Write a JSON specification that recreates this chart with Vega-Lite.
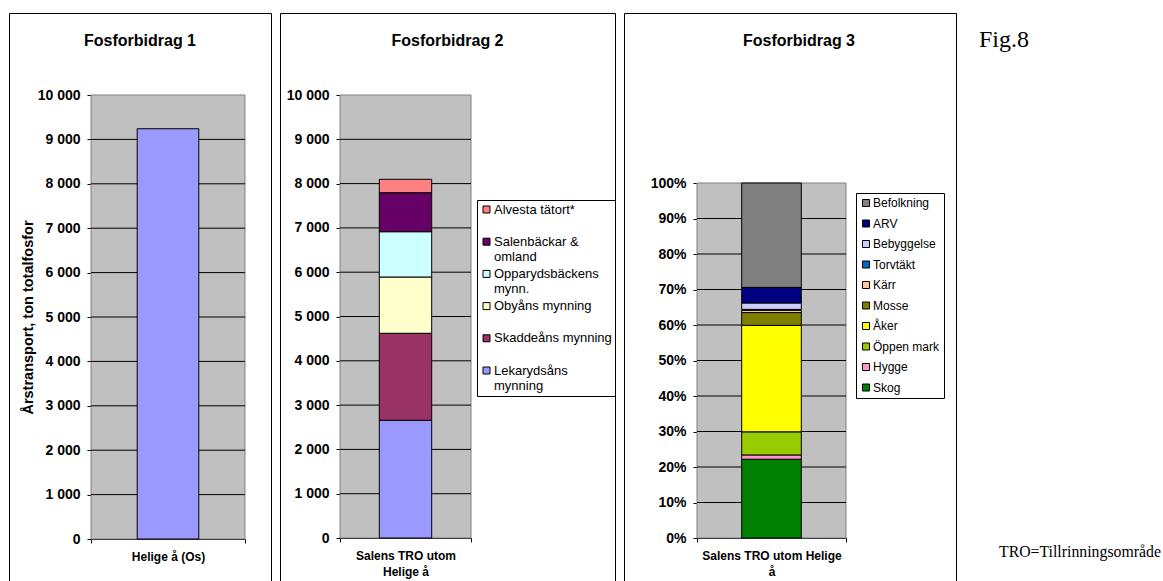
{
  "$schema": "https://vega.github.io/schema/vega-lite/v6.json",
  "padding": {"left": 8, "top": 12, "right": 0, "bottom": 0},
  "background": "white",
  "spacing": 9,
  "bounds": "flush",
  "resolve": {"scale": {"color": "independent", "size": "independent"}, "legend": {"color": "independent"}},
  "hconcat": [
    {
      "width": 262,
      "height": 575,
      "title": {"text": "Fosforbidrag 1"},
      "layer": [
        {
          "data": {"values": [{"cat": "Helige å (Os)", "lo": 0, "hi": 10000}]},
          "mark": {"type": "bar", "fill": "#c0c0c0", "stroke": "#808080", "strokeWidth": 1},
          "encoding": {
            "x": {"field": "cat", "type": "nominal", "scale": {"type": "band", "domain": ["Helige å (Os)"], "range": [82, 236], "paddingInner": 0, "paddingOuter": 0},
                  "axis": {"offset": -49, "title": null, "labelExpr": "datum.label"}},
            "y": {"field": "lo", "type": "quantitative", "scale": {"domain": [0, 10000], "range": [526, 82], "nice": false, "zero": false},
                  "axis": {"offset": -82, "values": [0, 1000, 2000, 3000, 4000, 5000, 6000, 7000, 8000, 9000, 10000],
                           "labelExpr": "datum.value == 0 ? '0' : floor(datum.value / 1000) + ' 000'",
                           "title": "Årstransport, ton totalfosfor", "titleFontSize": 14.5, "titlePadding": 2}},
            "y2": {"field": "hi"}
          }
        },
        {
          "data": {"values": [
            {"cat": "Helige å (Os)", "g": 1000}, {"cat": "Helige å (Os)", "g": 2000}, {"cat": "Helige å (Os)", "g": 3000},
            {"cat": "Helige å (Os)", "g": 4000}, {"cat": "Helige å (Os)", "g": 5000}, {"cat": "Helige å (Os)", "g": 6000},
            {"cat": "Helige å (Os)", "g": 7000}, {"cat": "Helige å (Os)", "g": 8000}, {"cat": "Helige å (Os)", "g": 9000}
          ]},
          "mark": {"type": "rule", "color": "black", "strokeWidth": 1},
          "encoding": {
            "x": {"field": "cat", "type": "nominal", "bandPosition": 0, "scale": {"type": "band", "domain": ["Helige å (Os)"], "range": [82, 236], "paddingInner": 0, "paddingOuter": 0}},
            "x2": {"field": "cat", "bandPosition": 1},
            "y": {"field": "g", "type": "quantitative", "scale": {"domain": [0, 10000], "range": [526, 82], "nice": false, "zero": false}}
          }
        },
        {
          "data": {"values": [{"cat": "Helige å (Os)", "v": 9240}]},
          "mark": {"type": "bar", "width": {"band": 0.4}, "fill": "#9999ff", "stroke": "black", "strokeWidth": 1},
          "encoding": {
            "x": {"field": "cat", "type": "nominal", "scale": {"type": "band", "domain": ["Helige å (Os)"], "range": [82, 236], "paddingInner": 0, "paddingOuter": 0}},
            "y": {"field": "v", "type": "quantitative", "scale": {"domain": [0, 10000], "range": [526, 82], "nice": false, "zero": false}}
          }
        }
      ]
    },
    {
      "width": 335,
      "height": 575,
      "title": {"text": "Fosforbidrag 2"},
      "layer": [
        {
          "data": {"values": [{"cat": "Salens TRO utom Helige å", "lo": 0, "hi": 10000}]},
          "mark": {"type": "bar", "fill": "#c0c0c0", "stroke": "#808080", "strokeWidth": 1},
          "encoding": {
            "x": {"field": "cat", "type": "nominal", "scale": {"type": "band", "domain": ["Salens TRO utom Helige å"], "range": [60, 191], "paddingInner": 0, "paddingOuter": 0},
                  "axis": {"offset": -50, "title": null, "labelExpr": "[slice(datum.label, 0, 15), slice(datum.label, 16)]"}},
            "y": {"field": "lo", "type": "quantitative", "scale": {"domain": [0, 10000], "range": [525, 82], "nice": false, "zero": false},
                  "axis": {"offset": -60, "values": [0, 1000, 2000, 3000, 4000, 5000, 6000, 7000, 8000, 9000, 10000],
                           "labelExpr": "datum.value == 0 ? '0' : floor(datum.value / 1000) + ' 000'", "title": null}},
            "y2": {"field": "hi"}
          }
        },
        {
          "data": {"values": [
            {"cat": "Salens TRO utom Helige å", "g": 1000}, {"cat": "Salens TRO utom Helige å", "g": 2000}, {"cat": "Salens TRO utom Helige å", "g": 3000},
            {"cat": "Salens TRO utom Helige å", "g": 4000}, {"cat": "Salens TRO utom Helige å", "g": 5000}, {"cat": "Salens TRO utom Helige å", "g": 6000},
            {"cat": "Salens TRO utom Helige å", "g": 7000}, {"cat": "Salens TRO utom Helige å", "g": 8000}, {"cat": "Salens TRO utom Helige å", "g": 9000}
          ]},
          "mark": {"type": "rule", "color": "black", "strokeWidth": 1},
          "encoding": {
            "x": {"field": "cat", "type": "nominal", "bandPosition": 0, "scale": {"type": "band", "domain": ["Salens TRO utom Helige å"], "range": [60, 191], "paddingInner": 0, "paddingOuter": 0}},
            "x2": {"field": "cat", "bandPosition": 1},
            "y": {"field": "g", "type": "quantitative", "scale": {"domain": [0, 10000], "range": [525, 82], "nice": false, "zero": false}}
          }
        },
        {
          "data": {"values": [
            {"cat": "Salens TRO utom Helige å", "seg": "Lekarydsåns mynning", "v": 2657, "o": 1},
            {"cat": "Salens TRO utom Helige å", "seg": "Skaddeåns mynning", "v": 1964, "o": 2},
            {"cat": "Salens TRO utom Helige å", "seg": "Obyåns mynning", "v": 1271, "o": 3},
            {"cat": "Salens TRO utom Helige å", "seg": "Opparydsbäckens mynn.", "v": 1022, "o": 4},
            {"cat": "Salens TRO utom Helige å", "seg": "Salenbäckar & omland", "v": 881, "o": 5},
            {"cat": "Salens TRO utom Helige å", "seg": "Alvesta tätort*", "v": 302, "o": 6}
          ]},
          "mark": {"type": "bar", "width": {"band": 0.4}, "stroke": "black", "strokeWidth": 1},
          "encoding": {
            "x": {"field": "cat", "type": "nominal", "scale": {"type": "band", "domain": ["Salens TRO utom Helige å"], "range": [60, 191], "paddingInner": 0, "paddingOuter": 0}},
            "y": {"field": "v", "type": "quantitative", "stack": "zero", "scale": {"domain": [0, 10000], "range": [525, 82], "nice": false, "zero": false}},
            "order": {"field": "o", "type": "quantitative"},
            "color": {"field": "seg", "type": "nominal",
              "scale": {"domain": ["Alvesta tätort*", "Salenbäckar & omland", "Opparydsbäckens mynn.", "Obyåns mynning", "Skaddeåns mynning", "Lekarydsåns mynning"],
                        "range": ["#ff8080", "#660066", "#ccffff", "#ffffcc", "#993366", "#9999ff"]},
              "legend": {"orient": "none", "legendX": 197, "legendY": 187, "title": null, "labelFontSize": 13, "rowPadding": 3.2, "padding": 3, "labelOffset": 1,
                         "labelExpr": "length(datum.label) > 17 ? [substring(datum.label, 0, lastindexof(datum.label, ' ')), substring(datum.label, lastindexof(datum.label, ' ') + 1)] : [datum.label, '']"}}
          }
        }
      ]
    },
    {
      "width": 332,
      "height": 575,
      "title": {"text": "Fosforbidrag 3", "dx": 9},
      "layer": [
        {
          "data": {"values": [{"cat": "Salens TRO utom Helige å", "lo": 0, "hi": 100}]},
          "mark": {"type": "bar", "fill": "#c0c0c0", "stroke": "#808080", "strokeWidth": 1},
          "encoding": {
            "x": {"field": "cat", "type": "nominal", "scale": {"type": "band", "domain": ["Salens TRO utom Helige å"], "range": [73, 222], "paddingInner": 0, "paddingOuter": 0},
                  "axis": {"offset": -50, "title": null, "labelExpr": "[slice(datum.label, 0, 22), slice(datum.label, 23)]"}},
            "y": {"field": "lo", "type": "quantitative", "scale": {"domain": [0, 100], "range": [525, 170], "nice": false, "zero": false},
                  "axis": {"offset": -73, "values": [0, 10, 20, 30, 40, 50, 60, 70, 80, 90, 100],
                           "labelExpr": "datum.value + '%'", "title": null}},
            "y2": {"field": "hi"}
          }
        },
        {
          "data": {"values": [
            {"cat": "Salens TRO utom Helige å", "g": 10}, {"cat": "Salens TRO utom Helige å", "g": 20}, {"cat": "Salens TRO utom Helige å", "g": 30},
            {"cat": "Salens TRO utom Helige å", "g": 40}, {"cat": "Salens TRO utom Helige å", "g": 50}, {"cat": "Salens TRO utom Helige å", "g": 60},
            {"cat": "Salens TRO utom Helige å", "g": 70}, {"cat": "Salens TRO utom Helige å", "g": 80}, {"cat": "Salens TRO utom Helige å", "g": 90}
          ]},
          "mark": {"type": "rule", "color": "black", "strokeWidth": 1},
          "encoding": {
            "x": {"field": "cat", "type": "nominal", "bandPosition": 0, "scale": {"type": "band", "domain": ["Salens TRO utom Helige å"], "range": [73, 222], "paddingInner": 0, "paddingOuter": 0}},
            "x2": {"field": "cat", "bandPosition": 1},
            "y": {"field": "g", "type": "quantitative", "scale": {"domain": [0, 100], "range": [525, 170], "nice": false, "zero": false}}
          }
        },
        {
          "data": {"values": [
            {"cat": "Salens TRO utom Helige å", "seg": "Skog", "v": 22.2, "o": 1},
            {"cat": "Salens TRO utom Helige å", "seg": "Hygge", "v": 1.2, "o": 2},
            {"cat": "Salens TRO utom Helige å", "seg": "Öppen mark", "v": 6.5, "o": 3},
            {"cat": "Salens TRO utom Helige å", "seg": "Åker", "v": 30.0, "o": 4},
            {"cat": "Salens TRO utom Helige å", "seg": "Mosse", "v": 3.6, "o": 5},
            {"cat": "Salens TRO utom Helige å", "seg": "Kärr", "v": 0.6, "o": 6},
            {"cat": "Salens TRO utom Helige å", "seg": "Torvtäkt", "v": 0.3, "o": 7},
            {"cat": "Salens TRO utom Helige å", "seg": "Bebyggelse", "v": 1.8, "o": 8},
            {"cat": "Salens TRO utom Helige å", "seg": "ARV", "v": 4.4, "o": 9},
            {"cat": "Salens TRO utom Helige å", "seg": "Befolkning", "v": 29.4, "o": 10}
          ]},
          "mark": {"type": "bar", "width": {"band": 0.4}, "stroke": "black", "strokeWidth": 1},
          "encoding": {
            "x": {"field": "cat", "type": "nominal", "scale": {"type": "band", "domain": ["Salens TRO utom Helige å"], "range": [73, 222], "paddingInner": 0, "paddingOuter": 0}},
            "y": {"field": "v", "type": "quantitative", "stack": "zero", "scale": {"domain": [0, 100], "range": [525, 170], "nice": false, "zero": false}},
            "order": {"field": "o", "type": "quantitative"},
            "color": {"field": "seg", "type": "nominal",
              "scale": {"domain": ["Befolkning", "ARV", "Bebyggelse", "Torvtäkt", "Kärr", "Mosse", "Åker", "Öppen mark", "Hygge", "Skog"],
                        "range": ["#808080", "#000080", "#ccccff", "#0066cc", "#ffcc99", "#808000", "#ffff00", "#99cc00", "#ff99cc", "#008000"]},
              "legend": {"orient": "none", "legendX": 232, "legendY": 180, "title": null, "labelFontSize": 12, "rowPadding": 8.5, "padding": 4, "labelOffset": 1}}
          }
        }
      ]
    },
    {
      "width": 199,
      "height": 575,
      "view": {"stroke": null},
      "data": {"values": [{"t": "Fig.8", "k": "fig"}, {"t": "TRO=Tillrinningsområde", "k": "tro"}]},
      "mark": {"type": "text", "font": "Liberation Serif", "align": "left", "baseline": "alphabetic", "color": "black"},
      "encoding": {
        "text": {"field": "t"},
        "x": {"field": "k", "type": "nominal", "scale": {"type": "point", "domain": ["fig", "tro"], "range": [14, 34], "padding": 0}, "axis": null},
        "y": {"field": "k", "type": "nominal", "scale": {"type": "point", "domain": ["fig", "tro"], "range": [34, 544], "padding": 0}, "axis": null},
        "size": {"field": "k", "type": "ordinal", "scale": {"domain": ["fig", "tro"], "range": [24, 15.8]}, "legend": null}
      }
    }
  ],
  "config": {
    "view": {"stroke": "black", "strokeWidth": 1},
    "title": {"font": "Liberation Sans", "fontSize": 16, "fontWeight": "bold", "color": "black", "anchor": "middle", "frame": "group", "offset": -36, "baseline": "alphabetic"},
    "axis": {"labelFont": "Liberation Sans", "labelColor": "black", "tickColor": "black", "domainColor": "black", "tickSize": 4, "tickWidth": 1, "domainWidth": 1, "grid": false, "zindex": 1,
             "titleFont": "Liberation Sans", "titleColor": "black", "titleFontWeight": "bold"},
    "axisY": {"labelFontSize": 14, "labelFontWeight": "bold", "labelPadding": 7},
    "axisX": {"labelFontSize": 12, "labelFontWeight": "bold", "labelAngle": 0, "labelPadding": 8, "tickBand": "extent", "labelLineHeight": 16},
    "legend": {"labelFont": "Liberation Sans", "labelColor": "black", "symbolType": "square", "symbolSize": 49, "symbolStrokeColor": "black", "symbolStrokeWidth": 1,
               "strokeColor": "black", "fillColor": "white", "gridAlign": "all", "labelOffset": 2, "symbolOpacity": 1}
  }
}
